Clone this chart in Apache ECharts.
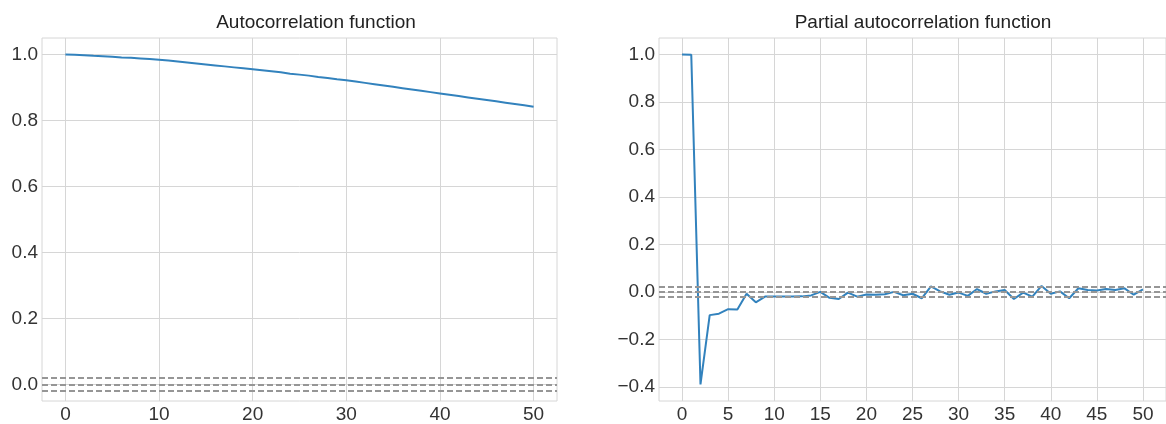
<!DOCTYPE html>
<html>
<head>
<meta charset="utf-8">
<script src="https://cdn.jsdelivr.net/npm/echarts@6/dist/echarts.min.js"></script>
<style>
  html, body { margin: 0; padding: 0; background: #ffffff; }
  #chart { width: 1166px; height: 424px; }
</style>
</head>
<body>
<div id="chart"></div>
<script>
// Lags shown on both panels
const lags = [0, 1, 2, 3, 4, 5, 6, 7, 8, 9, 10, 11, 12, 13, 14, 15, 16, 17, 18, 19, 20,
  21, 22, 23, 24, 25, 26, 27, 28, 29, 30, 31, 32, 33, 34, 35, 36, 37, 38, 39, 40,
  41, 42, 43, 44, 45, 46, 47, 48, 49, 50];

// Autocorrelation at each lag
const acfValues = [1.000, 0.999, 0.998, 0.996, 0.995, 0.993, 0.991, 0.990, 0.988, 0.986,
  0.984, 0.982, 0.979, 0.976, 0.973, 0.970, 0.967, 0.964, 0.961, 0.958,
  0.955, 0.952, 0.949, 0.946, 0.942, 0.939, 0.936, 0.932, 0.929, 0.925,
  0.922, 0.918, 0.914, 0.910, 0.906, 0.902, 0.898, 0.894, 0.890, 0.886,
  0.882, 0.878, 0.874, 0.870, 0.866, 0.862, 0.858, 0.854, 0.850, 0.846, 0.842];

// Partial autocorrelation at each lag
const pacfValues = [1.000, 0.999, -0.390, -0.098, -0.092, -0.073, -0.074, -0.008, -0.044, -0.020,
  -0.020, -0.020, -0.020, -0.019, -0.015, 0.000, -0.025, -0.030, -0.003, -0.020,
  -0.011, -0.012, -0.010, 0.000, -0.014, -0.008, -0.027, 0.023, 0.002, -0.012,
  -0.003, -0.017, 0.012, -0.008, 0.002, 0.008, -0.030, -0.003, -0.020, 0.025,
  -0.008, 0.002, -0.027, 0.015, 0.008, 0.006, 0.012, 0.008, 0.015, -0.012, 0.010];

// Zero line and confidence band
const bandLevels = [-0.016, 0, 0.016];

// Tick labels
const acfXTicks = [0, 10, 20, 30, 40, 50];
const pacfXTicks = [0, 5, 10, 15, 20, 25, 30, 35, 40, 45, 50];
const acfYTicks = [0, 0.2, 0.4, 0.6, 0.8, 1.0];
const pacfYTicks = [-0.4, -0.2, 0, 0.2, 0.4, 0.6, 0.8, 1.0];

const titles = ['Autocorrelation function', 'Partial autocorrelation function'];

const FONT = "'Liberation Sans', Arial, sans-serif";
const FONT_SIZE = 19;
const GRID_COLOR = '#d6d6d6';
const TEXT_COLOR = '#333333';
const LINE_COLOR = '#3282bd';

const grids = [
  { left: 42, top: 38, width: 515, height: 367 },
  { left: 659, top: 38, width: 516, height: 367 }
];
// horizontal centres of the panel titles
const titleCentres = [316, 923];

function fmtY(v) {
  return v.toFixed(1).replace('-', '\u2212');
}

function xAxisFor(gi, ticks) {
  return {
    type: 'value', gridIndex: gi, min: -2.5, max: 52.5,
    axisLine: { show: false },
    axisTick: { show: false, customValues: ticks },
    axisLabel: { customValues: ticks, color: TEXT_COLOR, fontSize: FONT_SIZE, fontFamily: FONT, margin: 4 },
    splitLine: { show: true, lineStyle: { color: GRID_COLOR, width: 1 } }
  };
}

function yAxisFor(gi, min, max, ticks) {
  return {
    type: 'value', gridIndex: gi, min: min, max: max,
    axisLine: { show: false },
    axisTick: { show: false, customValues: ticks },
    axisLabel: { customValues: ticks, formatter: fmtY, color: TEXT_COLOR, fontSize: FONT_SIZE, fontFamily: FONT, margin: 4 },
    splitLine: { show: true, lineStyle: { color: GRID_COLOR, width: 1 } }
  };
}

function bandSeries(gi) {
  return {
    type: 'line', xAxisIndex: gi, yAxisIndex: gi, data: [], silent: true, z: 1,
    markLine: {
      silent: true, symbol: 'none', animation: false,
      label: { show: false },
      lineStyle: { color: '#969696', width: 2, type: [6, 3] },
      data: bandLevels.map(v => ({ yAxis: v }))
    }
  };
}

function curveSeries(gi, values) {
  return {
    type: 'line', xAxisIndex: gi, yAxisIndex: gi, z: 3,
    data: lags.map((l, i) => [l, values[i]]),
    showSymbol: false, symbol: 'none',
    lineStyle: { color: LINE_COLOR, width: 2 },
    animation: false
  };
}

const chart = echarts.init(document.getElementById('chart'), null, { renderer: 'canvas' });

chart.setOption({
  backgroundColor: '#ffffff',
  animation: false,
  grid: grids.map(g => Object.assign({ show: true, borderColor: GRID_COLOR, borderWidth: 1, backgroundColor: 'transparent' }, g)),
  xAxis: [xAxisFor(0, acfXTicks), xAxisFor(1, pacfXTicks)],
  yAxis: [yAxisFor(0, -0.05, 1.05, acfYTicks), yAxisFor(1, -0.46, 1.07, pacfYTicks)],
  graphic: titles.map((t, i) => ({
    type: 'text',
    x: titleCentres[i],
    y: 23,
    style: { text: t, fill: '#222222', font: FONT_SIZE + 'px ' + FONT, align: 'center', verticalAlign: 'middle' }
  })),
  series: [bandSeries(0), curveSeries(0, acfValues), bandSeries(1), curveSeries(1, pacfValues)]
});
</script>
</body>
</html>
